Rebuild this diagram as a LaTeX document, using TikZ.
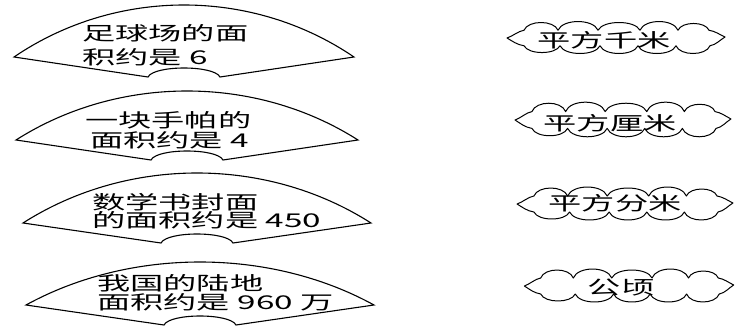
\documentclass[tikz,border=0pt]{standalone}
\usepackage{fontspec}
\newfontfamily\cjk[FakeStretch=1.75]{Noto Sans CJK SC}
\newcommand\drawfan[4]{% cx, base y, half width, peak height
  \pgfmathsetmacro\fh{(#4-20)/0.75}
  \draw[fanline] ({#1-#3},{#2-20})
    .. controls ({#1-0.4*#3},{#2-20-\fh}) and ({#1+0.4*#3},{#2-20-\fh}) .. ({#1+#3},{#2-20})
    -- ({#1+36},{#2})
    .. controls ({#1+30},{#2-12}) and ({#1-30},{#2-12}) .. ({#1-36},{#2})
    -- cycle;}
% bump from (x1,y) to (x2,y), bulge b (sign gives direction)
\newcommand\bump[4]{.. controls ({#1+0.12*(#2-#1)},{#3+1.33*#4}) and ({#2-0.12*(#2-#1)},{#3+1.33*#4}) .. ({#2},{#3})}
\newcommand\drawcloud[4]{% cx, cy, xscale, yscale
  \begin{scope}[shift={(#1,#2)}, xscale=#3, yscale=-#4]
  \draw[cloudline] (-92,8)
    \bump{-92}{-58}{8}{8}
    \bump{-58}{-18}{8}{9}
    \bump{-18}{24}{8}{8}
    \bump{24}{62}{8}{9}
    \bump{62}{93}{8}{7}
    .. controls (99,7) and (103,4) .. (109,1)
    .. controls (104,-2) and (100,-7) .. (94,-8)
    \bump{94}{60}{-8}{-8}
    \bump{60}{22}{-8}{-8}
    \bump{22}{-16}{-8}{-8}
    \bump{-16}{-56}{-8}{-8}
    \bump{-56}{-92}{-8}{-7}
    .. controls (-99,-7) and (-104,-3) .. (-109,0)
    .. controls (-103,2) and (-98,7) .. (-92,8) -- cycle;
  \end{scope}}
\begin{document}
\begin{tikzpicture}[x=1pt,y=-1pt,
  fanline/.style={line width=1.1pt, line join=miter},
  cloudline/.style={line width=1.0pt, line join=round},
  lbl/.style={font=\cjk\fontsize{19}{19}\selectfont, inner sep=0pt, anchor=west},
  ctxt/.style={font=\cjk\fontsize{19}{19}\selectfont, inner sep=0pt}]
\useasboundingbox (0,0) rectangle (736,327);
\clip (0,0) rectangle (736,327);
\fill[white] (0,0) rectangle (736,327);

\drawfan{184}{77}{170}{72}
\drawfan{187}{160}{171}{69}
\drawfan{197}{243}{174}{70}
\drawfan{200}{325}{174}{63}

\node[lbl] (f1a) at (82,33) {足球场的面};
\node[lbl] (f1b) at (82,57) {积约是 6};
\node[lbl] (f2a) at (85,120) {一块手帕的};
\node[lbl] (f2b) at (90,140) {面积约是 4};
\node[lbl] (f3a) at (92,202) {数学书封面};
\node[lbl] (f3b) at (92,220) {的面积约是 450};
\node[lbl] (f4a) at (97,283) {我国的陆地};
\node[lbl] (f4b) at (97,302) {面积约是 960 万};

\drawcloud{616}{38}{1.0}{0.97}
\drawcloud{623}{120}{0.99}{1.05}
\drawcloud{625}{204}{0.99}{1.0}
\drawcloud{629}{286}{0.96}{1.0}

\node[ctxt] (t1) at (604,40) {平方千米};
\node[ctxt] (t2) at (610,123) {平方厘米};
\node[ctxt] (t3) at (615,203) {平方分米};
\node[ctxt] (t4) at (621,288) {公顷};
\end{tikzpicture}
\end{document}
